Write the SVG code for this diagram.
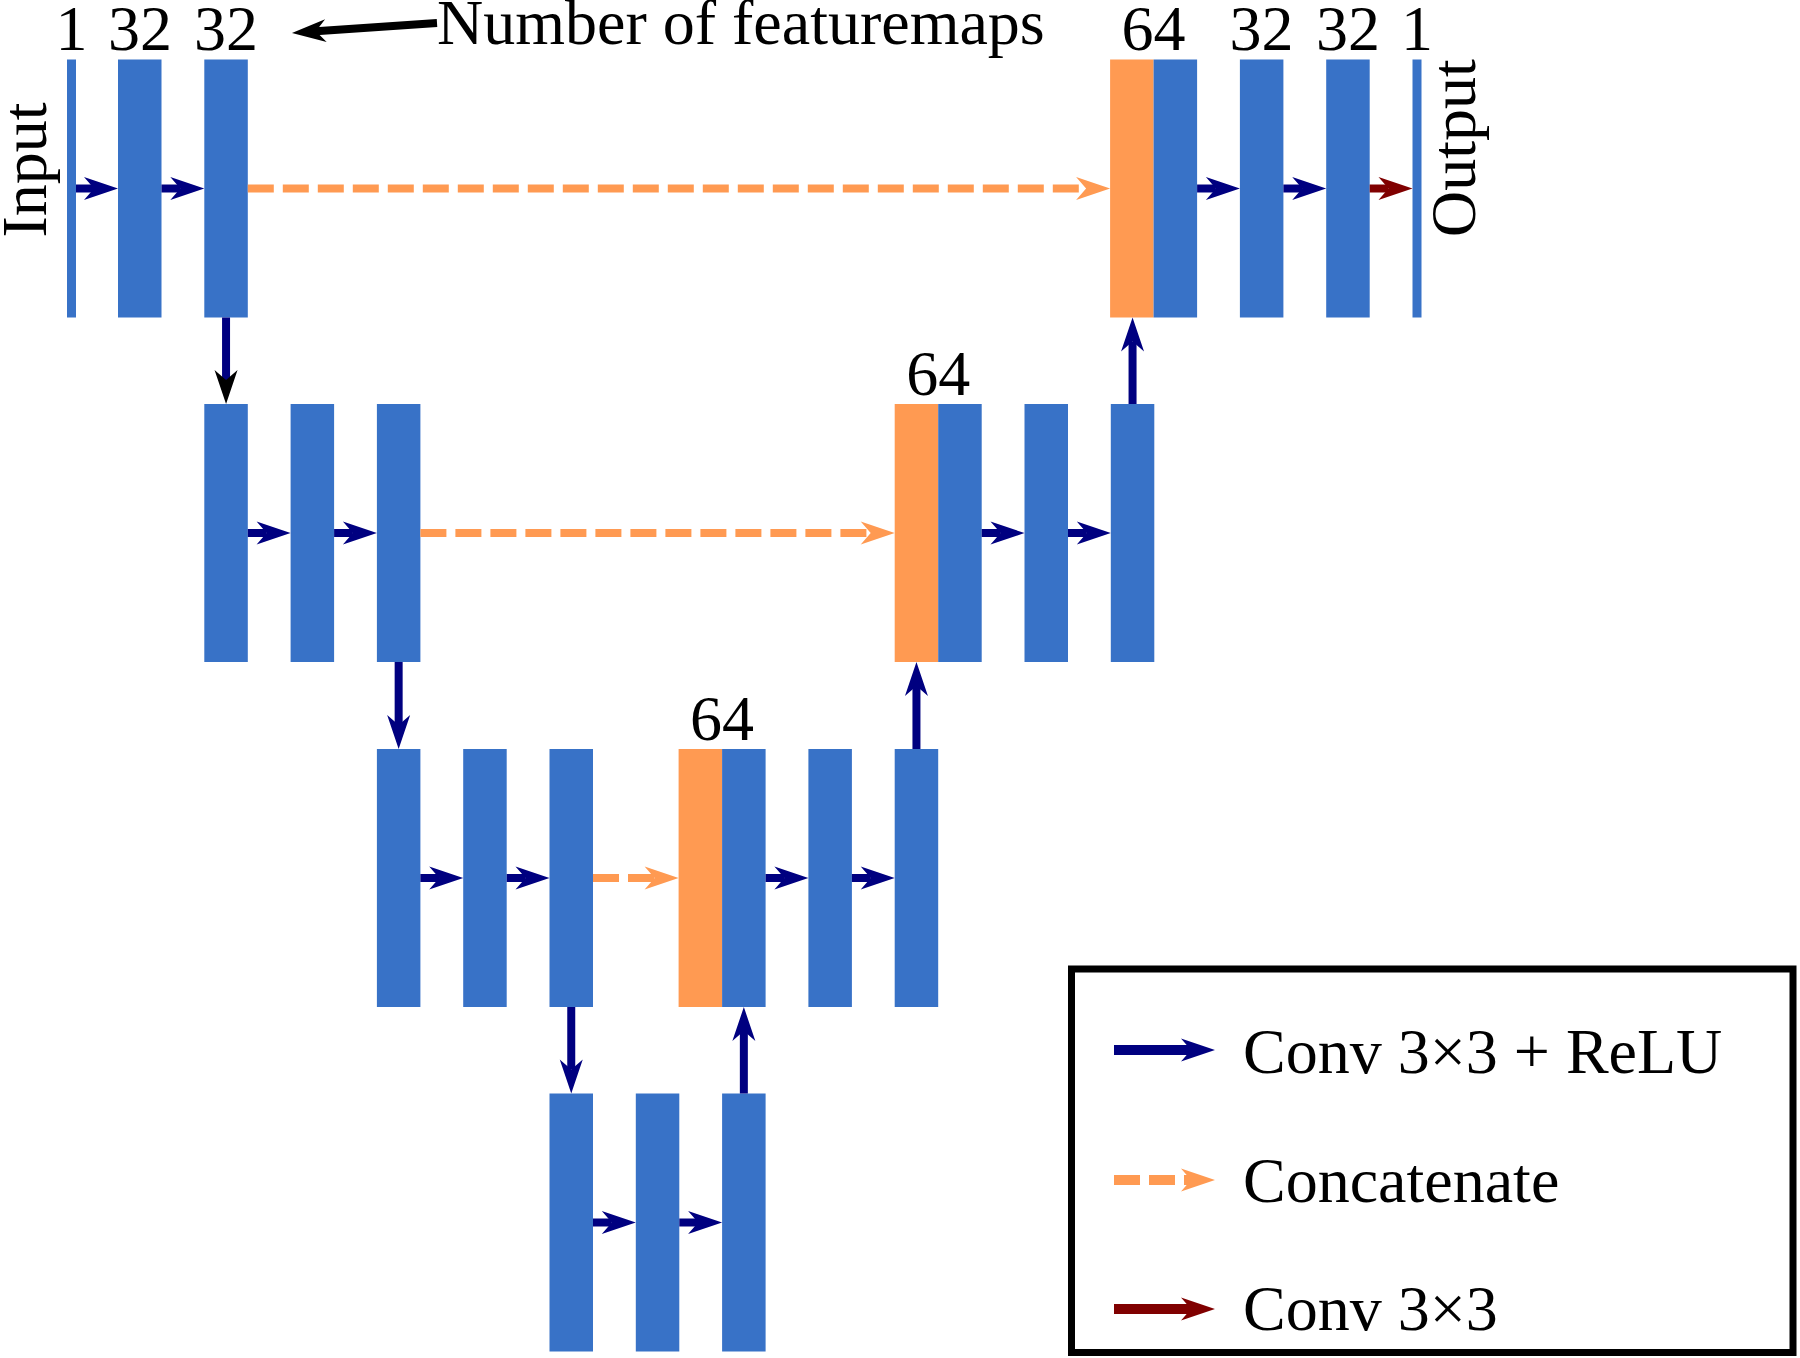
<svg xmlns="http://www.w3.org/2000/svg" width="1800" height="1358" viewBox="0 0 1800 1358">
<style>
.b{fill:#3872C7}
.o{fill:#FF9A52}
.t{font-family:"Liberation Serif","Times New Roman",serif;font-size:64px;fill:#000}
.m{text-anchor:middle}
.c{stroke:#000080;stroke-width:8;fill:none;marker-end:url(#hn)}
.k{stroke:#000080;stroke-width:8;fill:none;marker-end:url(#hk)}
.r{stroke:#800000;stroke-width:8;fill:none;marker-end:url(#hr)}
.d{stroke:#FF9A52;stroke-width:8;stroke-dasharray:26 9;fill:none;marker-end:url(#ho)}
.p{stroke:#000;stroke-width:8;fill:none;marker-end:url(#hk)}
.lg{stroke-width:10}
</style>
<defs>
<marker id="hn" markerUnits="userSpaceOnUse" orient="auto" markerWidth="60" markerHeight="40" refX="0" refY="0" overflow="visible"><path d="M24,0 L-10,-11.5 L0,0 L-10,11.5 Z" fill="#000080"/></marker>
<marker id="hk" markerUnits="userSpaceOnUse" orient="auto" markerWidth="60" markerHeight="40" refX="0" refY="0" overflow="visible"><path d="M24,0 L-10,-11.5 L0,0 L-10,11.5 Z" fill="#000"/></marker>
<marker id="hr" markerUnits="userSpaceOnUse" orient="auto" markerWidth="60" markerHeight="40" refX="0" refY="0" overflow="visible"><path d="M24,0 L-10,-11.5 L0,0 L-10,11.5 Z" fill="#800000"/></marker>
<marker id="ho" markerUnits="userSpaceOnUse" orient="auto" markerWidth="60" markerHeight="40" refX="0" refY="0" overflow="visible"><path d="M24,0 L-10,-11.5 L0,0 L-10,11.5 Z" fill="#FF9A52"/></marker>
</defs>
<rect width="1800" height="1358" fill="#fff"/>

<!-- Row 1 -->
<g id="input"><rect class="b" x="67" y="59.5" width="9" height="258"/><text class="t m" x="71.5" y="50">1</text><text class="t m" transform="translate(46,170) rotate(-90)">Input</text></g>
<g id="enc1a"><rect class="b" x="118" y="59.5" width="43.5" height="258"/><text class="t m" x="140" y="50">32</text></g>
<g id="enc1b"><rect class="b" x="204.3" y="59.5" width="43.5" height="258"/><text class="t m" x="226" y="50">32</text></g>
<g id="dec1cat"><rect class="o" x="1110.1" y="59.5" width="43.5" height="258"/><rect class="b" x="1153.6" y="59.5" width="43.5" height="258"/><text class="t m" x="1153.6" y="50">64</text></g>
<g id="dec1a"><rect class="b" x="1239.9" y="59.5" width="43.5" height="258"/><text class="t m" x="1261.6" y="50">32</text></g>
<g id="dec1b"><rect class="b" x="1326.2" y="59.5" width="43.5" height="258"/><text class="t m" x="1348" y="50">32</text></g>
<g id="output"><rect class="b" x="1412.5" y="59.5" width="9" height="258"/><text class="t m" x="1417" y="50">1</text><text class="t m" transform="translate(1475,148) rotate(-90)">Output</text></g>
<g id="note"><text class="t" x="437" y="44">Number of featuremaps</text></g>

<!-- Row 2 -->
<g id="enc2a"><rect class="b" x="204.3" y="404" width="43.5" height="258"/></g>
<g id="enc2b"><rect class="b" x="290.6" y="404" width="43.5" height="258"/></g>
<g id="enc2c"><rect class="b" x="376.9" y="404" width="43.5" height="258"/></g>
<g id="dec2cat"><rect class="o" x="894.7" y="404" width="43.5" height="258"/><rect class="b" x="938.2" y="404" width="43.5" height="258"/><text class="t m" x="938.2" y="395">64</text></g>
<g id="dec2a"><rect class="b" x="1024.5" y="404" width="43.5" height="258"/></g>
<g id="dec2b"><rect class="b" x="1110.8" y="404" width="43.5" height="258"/></g>

<!-- Row 3 -->
<g id="enc3a"><rect class="b" x="376.9" y="749" width="43.5" height="258"/></g>
<g id="enc3b"><rect class="b" x="463.2" y="749" width="43.5" height="258"/></g>
<g id="enc3c"><rect class="b" x="549.5" y="749" width="43.5" height="258"/></g>
<g id="dec3cat"><rect class="o" x="678.6" y="749" width="43.5" height="258"/><rect class="b" x="722.1" y="749" width="43.5" height="258"/><text class="t m" x="722.1" y="740">64</text></g>
<g id="dec3a"><rect class="b" x="808.4" y="749" width="43.5" height="258"/></g>
<g id="dec3b"><rect class="b" x="894.7" y="749" width="43.5" height="258"/></g>

<!-- Row 4 -->
<g id="bott1"><rect class="b" x="549.5" y="1093.5" width="43.5" height="258"/></g>
<g id="bott2"><rect class="b" x="635.8" y="1093.5" width="43.5" height="258"/></g>
<g id="bott3"><rect class="b" x="722.1" y="1093.5" width="43.5" height="258"/></g>

<!-- Legend -->
<g id="legend">
<rect x="1071.5" y="969" width="721.5" height="383.5" fill="none" stroke="#000" stroke-width="7"/>
<line class="c lg" x1="1114" y1="1050" x2="1191" y2="1050"/>
<text class="t" x="1243" y="1073">Conv 3×3 + ReLU</text>
<line class="d lg" x1="1114" y1="1180" x2="1191" y2="1180"/>
<text class="t" x="1243" y="1202">Concatenate</text>
<line class="r lg" x1="1114" y1="1309" x2="1191" y2="1309"/>
<text class="t" x="1243" y="1330">Conv 3×3</text>
</g>

<g id="connectors">
<line class="p" x1="437" y1="23" x2="315.9" y2="31.3"/>
<!-- row 1 -->
<line class="c" x1="76" y1="188.5" x2="94" y2="188.5"/>
<line class="c" x1="161.5" y1="188.5" x2="180.3" y2="188.5"/>
<line class="d" x1="247.8" y1="188.5" x2="1086.1" y2="188.5"/>
<line class="c" x1="1197.1" y1="188.5" x2="1215.9" y2="188.5"/>
<line class="c" x1="1283.4" y1="188.5" x2="1302.2" y2="188.5"/>
<line class="r" x1="1369.7" y1="188.5" x2="1388.5" y2="188.5"/>
<!-- row 2 -->
<line class="c" x1="247.8" y1="533" x2="266.6" y2="533"/>
<line class="c" x1="334.1" y1="533" x2="352.9" y2="533"/>
<line class="d" x1="420.4" y1="533" x2="870.7" y2="533"/>
<line class="c" x1="981.7" y1="533" x2="1000.5" y2="533"/>
<line class="c" x1="1068" y1="533" x2="1086.8" y2="533"/>
<!-- row 3 -->
<line class="c" x1="420.4" y1="878" x2="439.2" y2="878"/>
<line class="c" x1="506.7" y1="878" x2="525.5" y2="878"/>
<line class="d" x1="593" y1="878" x2="654.6" y2="878"/>
<line class="c" x1="765.6" y1="878" x2="784.4" y2="878"/>
<line class="c" x1="851.9" y1="878" x2="870.7" y2="878"/>
<!-- row 4 -->
<line class="c" x1="593" y1="1222.5" x2="611.8" y2="1222.5"/>
<line class="c" x1="679.3" y1="1222.5" x2="698.1" y2="1222.5"/>
<!-- vertical -->
<line class="k" x1="226.05" y1="317.5" x2="226.05" y2="380"/>
<line class="c" x1="398.65" y1="662" x2="398.65" y2="725"/>
<line class="c" x1="571.25" y1="1007" x2="571.25" y2="1069.5"/>
<line class="c" x1="743.85" y1="1093.5" x2="743.85" y2="1031"/>
<line class="c" x1="916.45" y1="749" x2="916.45" y2="686"/>
<line class="c" x1="1132.55" y1="404" x2="1132.55" y2="341.5"/>
</g>
</svg>
